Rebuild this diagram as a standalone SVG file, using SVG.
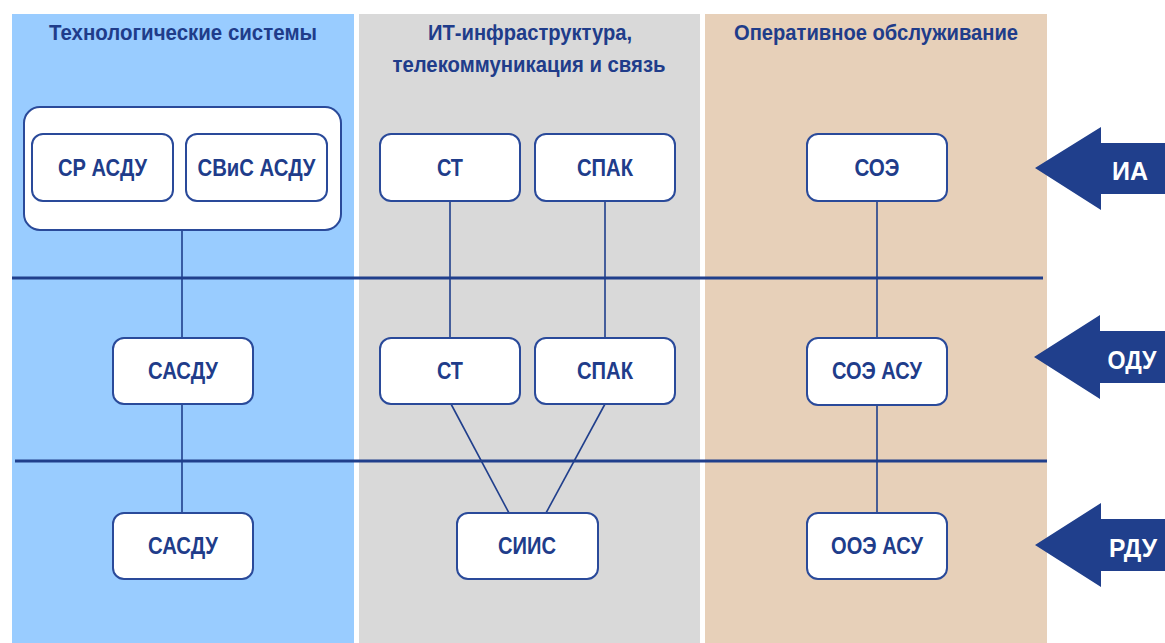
<svg xmlns="http://www.w3.org/2000/svg" width="1165" height="643" viewBox="0 0 1165 643">
<style>
.hdr{font-family:"Liberation Sans Narrow","Liberation Sans",Arial,sans-serif;font-weight:bold;font-size:22px;fill:#203c8a;text-anchor:middle}
.box{fill:#ffffff;stroke:#2a4a9a;stroke-width:2}
.lbl{font-family:"Liberation Sans Narrow","Liberation Sans",Arial,sans-serif;font-weight:bold;font-size:24px;fill:#203c8a;text-anchor:middle}
.arr{fill:#203f8c}
.atx{font-family:"Liberation Sans Narrow","Liberation Sans",Arial,sans-serif;font-weight:bold;font-size:26px;fill:#ffffff;text-anchor:middle}
.con{stroke:#203f8c;stroke-width:1.6;fill:none}
.lev{stroke:#203f8c;stroke-width:3.2;fill:none}
</style>
<rect width="1165" height="643" fill="#ffffff"/>
<g id="panels">
<rect x="12" y="14" width="342" height="629" fill="#99ccff"/>
<rect x="359" y="14" width="341" height="629" fill="#d9d9d9"/>
<rect x="705" y="14" width="342" height="629" fill="#e7d0b9"/>
<text class="hdr" x="183" y="40" textLength="268" lengthAdjust="spacingAndGlyphs">Технологические системы</text>
<text class="hdr" x="530" y="40" textLength="204" lengthAdjust="spacingAndGlyphs">ИТ-инфраструктура,</text>
<text class="hdr" x="529" y="72" textLength="273" lengthAdjust="spacingAndGlyphs">телекоммуникация и связь</text>
<text class="hdr" x="876" y="40" textLength="284" lengthAdjust="spacingAndGlyphs">Оперативное обслуживание</text>
</g>
<g id="levels">
<line class="lev" x1="12" y1="278" x2="1043" y2="278"/>
<line class="lev" x1="15" y1="461" x2="1047" y2="461"/>
</g>
<g id="connectors">
<line class="con" x1="182" y1="230" x2="182" y2="338"/>
<line class="con" x1="182" y1="404" x2="182" y2="513"/>
<line class="con" x1="450" y1="201" x2="450" y2="338"/>
<line class="con" x1="605" y1="201" x2="605" y2="338"/>
<line class="con" x1="451" y1="404" x2="509" y2="513"/>
<line class="con" x1="605" y1="404" x2="546" y2="513"/>
<line class="con" x1="877" y1="201" x2="877" y2="338"/>
<line class="con" x1="877" y1="405" x2="877" y2="513"/>
</g>
<g id="group-asdu">
<rect class="box" x="24" y="107" width="317" height="123" rx="16"/>
</g>
<g id="node-sr-asdu">
<rect class="box" x="32" y="134" width="141" height="67" rx="11"/>
<text class="lbl" x="102.5" y="176" textLength="89" lengthAdjust="spacingAndGlyphs">СР АСДУ</text>
</g>
<g id="node-svis-asdu">
<rect class="box" x="186" y="134" width="141" height="67" rx="11"/>
<text class="lbl" x="256.5" y="176" textLength="118" lengthAdjust="spacingAndGlyphs">СВиС АСДУ</text>
</g>
<g id="node-st-ia">
<rect class="box" x="380" y="134" width="140" height="67" rx="11"/>
<text class="lbl" x="450" y="176" textLength="26" lengthAdjust="spacingAndGlyphs">СТ</text>
</g>
<g id="node-spak-ia">
<rect class="box" x="535" y="134" width="140" height="67" rx="11"/>
<text class="lbl" x="605" y="176" textLength="56" lengthAdjust="spacingAndGlyphs">СПАК</text>
</g>
<g id="node-soe">
<rect class="box" x="807" y="134" width="140" height="67" rx="11"/>
<text class="lbl" x="877" y="176" textLength="45" lengthAdjust="spacingAndGlyphs">СОЭ</text>
</g>
<g id="node-sasdu-odu">
<rect class="box" x="113" y="338" width="140" height="66" rx="11"/>
<text class="lbl" x="183" y="379" textLength="70" lengthAdjust="spacingAndGlyphs">САСДУ</text>
</g>
<g id="node-st-odu">
<rect class="box" x="380" y="338" width="140" height="66" rx="11"/>
<text class="lbl" x="450" y="379" textLength="26" lengthAdjust="spacingAndGlyphs">СТ</text>
</g>
<g id="node-spak-odu">
<rect class="box" x="535" y="338" width="140" height="66" rx="11"/>
<text class="lbl" x="605" y="379" textLength="56" lengthAdjust="spacingAndGlyphs">СПАК</text>
</g>
<g id="node-soe-asu">
<rect class="box" x="807" y="338" width="140" height="67" rx="11"/>
<text class="lbl" x="877" y="379" textLength="90" lengthAdjust="spacingAndGlyphs">СОЭ АСУ</text>
</g>
<g id="node-sasdu-rdu">
<rect class="box" x="113" y="513" width="140" height="66" rx="11"/>
<text class="lbl" x="183" y="554" textLength="70" lengthAdjust="spacingAndGlyphs">САСДУ</text>
</g>
<g id="node-siis">
<rect class="box" x="457" y="513" width="141" height="66" rx="11"/>
<text class="lbl" x="527" y="554" textLength="58" lengthAdjust="spacingAndGlyphs">СИИС</text>
</g>
<g id="node-ooe-asu">
<rect class="box" x="807" y="513" width="140" height="66" rx="11"/>
<text class="lbl" x="877" y="554" textLength="92" lengthAdjust="spacingAndGlyphs">ООЭ АСУ</text>
</g>
<g id="arrow-ia">
<polygon class="arr" points="1035,168 1101,127 1101,143 1165,143 1165,194 1101,194 1101,210"/>
<text class="atx" x="1130" y="180" textLength="36" lengthAdjust="spacingAndGlyphs">ИА</text>
</g>
<g id="arrow-odu">
<polygon class="arr" points="1034,357 1100,315 1100,331 1165,331 1165,383 1100,383 1100,399"/>
<text class="atx" x="1132" y="369" textLength="49" lengthAdjust="spacingAndGlyphs">ОДУ</text>
</g>
<g id="arrow-rdu">
<polygon class="arr" points="1035,545 1101,503 1101,519 1165,519 1165,571 1101,571 1101,587"/>
<text class="atx" x="1133" y="557" textLength="48" lengthAdjust="spacingAndGlyphs">РДУ</text>
</g>
</svg>
